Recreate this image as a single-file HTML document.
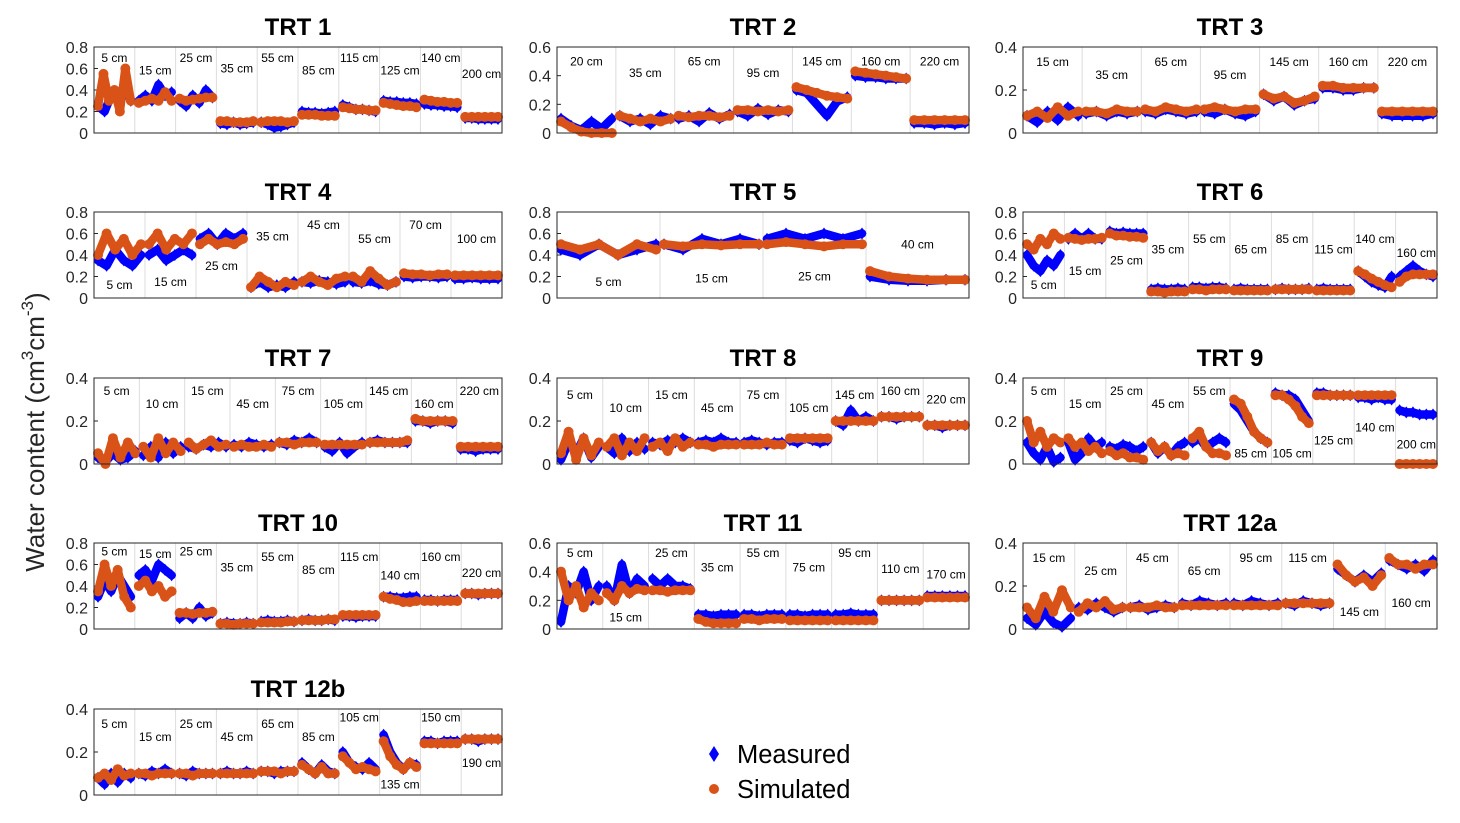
<!DOCTYPE html>
<html><head><meta charset="utf-8"><style>
body{margin:0;background:#fff;width:1460px;height:818px;overflow:hidden;font-family:"Liberation Sans",Arial,sans-serif}
svg text{font-family:"Liberation Sans",Arial,sans-serif}
</style></head><body>
<svg id="chart" width="1460" height="818" xmlns="http://www.w3.org/2000/svg">
<text transform="translate(44,432) rotate(-90)" text-anchor="middle" font-size="26" fill="#262626">Water content (cm<tspan font-size="17" dy="-11">3</tspan><tspan dy="11">cm</tspan><tspan font-size="17" dy="-11">-3</tspan><tspan dy="11">)</tspan></text>
<g>
<polygon points="714,746 719,754 714,762 709,754" fill="#0000ff"/>
<text x="737" y="763" font-size="25.5" fill="#000">Measured</text>
<circle cx="714" cy="789" r="5" fill="#d95319"/>
<text x="737" y="798" font-size="25.5" fill="#000">Simulated</text>
</g>
</svg>
<script>
// Panel titles and y-axis maxima
const titles = ["TRT 1","TRT 2","TRT 3","TRT 4","TRT 5","TRT 6","TRT 7","TRT 8","TRT 9","TRT 10","TRT 11","TRT 12a","TRT 12b"];
const yMaxes = [0.8,0.6,0.4,0.8,0.8,0.8,0.4,0.4,0.4,0.8,0.6,0.4,0.4];
// Segment data per panel: [depth label, label y value, measured values, simulated values]
const trt1 = [["5 cm",0.7,[0.25,0.2,0.35,0.3,0.45,0.3],[0.25,0.55,0.3,0.4,0.2,0.6,0.3]],["15 cm",0.58,[0.3,0.35,0.3,0.45,0.35,0.38],[0.28,0.3,0.32,0.3,0.38,0.3]],["25 cm",0.7,[0.3,0.25,0.35,0.28,0.4,0.33],[0.32,0.3,0.31,0.32,0.33,0.33]],["35 cm",0.6,[0.09,0.08,0.1,0.08,0.09,0.1],[0.11,0.11,0.1,0.1,0.1,0.11]],["55 cm",0.7,[0.1,0.08,0.05,0.06,0.08,0.1],[0.1,0.11,0.11,0.11,0.1,0.11]],["85 cm",0.58,[0.2,0.19,0.19,0.18,0.19,0.2],[0.17,0.17,0.17,0.16,0.16,0.16]],["115 cm",0.7,[0.26,0.24,0.22,0.22,0.21,0.2],[0.24,0.23,0.22,0.22,0.21,0.21]],["125 cm",0.58,[0.3,0.29,0.29,0.28,0.28,0.27],[0.28,0.27,0.26,0.25,0.25,0.24]],["140 cm",0.7,[0.27,0.26,0.26,0.25,0.25,0.24],[0.31,0.3,0.29,0.29,0.28,0.28]],["200 cm",0.55,[0.14,0.14,0.13,0.13,0.13,0.13],[0.15,0.15,0.15,0.15,0.15,0.15]]];
const trt2 = [["20 cm",0.5,[0.1,0.05,0.02,0.08,0.03,0.1],[0.08,0.04,0.01,0,0,0]],["35 cm",0.42,[0.12,0.08,0.1,0.06,0.12,0.1],[0.12,0.1,0.08,0.1,0.08,0.1]],["65 cm",0.5,[0.1,0.12,0.08,0.14,0.1,0.13],[0.12,0.11,0.12,0.12,0.11,0.12]],["95 cm",0.42,[0.15,0.12,0.17,0.13,0.16,0.15],[0.16,0.16,0.15,0.16,0.15,0.16]],["145 cm",0.5,[0.3,0.28,0.2,0.12,0.22,0.25],[0.32,0.3,0.28,0.26,0.25,0.24]],["160 cm",0.5,[0.4,0.39,0.39,0.38,0.38,0.38],[0.43,0.42,0.41,0.4,0.39,0.38]],["220 cm",0.5,[0.07,0.07,0.06,0.07,0.06,0.07],[0.09,0.09,0.09,0.09,0.09,0.09]]];
const trt3 = [["15 cm",0.33,[0.08,0.05,0.1,0.06,0.12,0.08],[0.08,0.1,0.07,0.12,0.08,0.1]],["35 cm",0.27,[0.09,0.1,0.08,0.1,0.09,0.1],[0.1,0.1,0.09,0.11,0.1,0.1]],["65 cm",0.33,[0.1,0.09,0.11,0.1,0.09,0.1],[0.11,0.1,0.12,0.11,0.1,0.11]],["95 cm",0.27,[0.1,0.09,0.11,0.09,0.08,0.1],[0.11,0.12,0.11,0.1,0.11,0.11]],["145 cm",0.33,[0.18,0.15,0.17,0.13,0.15,0.16],[0.18,0.16,0.17,0.14,0.15,0.17]],["160 cm",0.33,[0.21,0.21,0.2,0.2,0.21,0.21],[0.22,0.22,0.21,0.21,0.21,0.21]],["220 cm",0.33,[0.09,0.08,0.08,0.08,0.08,0.09],[0.1,0.1,0.1,0.1,0.1,0.1]]];
const trt4 = [["5 cm",0.12,[0.35,0.3,0.45,0.35,0.3,0.4],[0.4,0.6,0.45,0.55,0.4,0.5]],["15 cm",0.15,[0.4,0.45,0.35,0.4,0.45,0.4],[0.5,0.6,0.45,0.55,0.5,0.6]],["25 cm",0.3,[0.55,0.6,0.5,0.6,0.55,0.6],[0.5,0.55,0.5,0.52,0.5,0.55]],["35 cm",0.57,[0.1,0.15,0.1,0.12,0.1,0.15],[0.1,0.2,0.15,0.1,0.15,0.12]],["45 cm",0.68,[0.15,0.14,0.16,0.15,0.13,0.15],[0.15,0.2,0.15,0.12,0.18,0.2]],["55 cm",0.55,[0.15,0.14,0.16,0.13,0.12,0.15],[0.2,0.15,0.25,0.18,0.12,0.15]],["70 cm",0.68,[0.2,0.19,0.2,0.2,0.19,0.2],[0.23,0.22,0.22,0.21,0.22,0.22]],["100 cm",0.55,[0.18,0.18,0.19,0.18,0.18,0.18],[0.21,0.21,0.21,0.21,0.21,0.21]]];
const trt5 = [["5 cm",0.15,[0.45,0.4,0.5,0.4,0.45,0.5],[0.5,0.45,0.5,0.4,0.5,0.45]],["15 cm",0.18,[0.5,0.45,0.55,0.5,0.55,0.5],[0.5,0.48,0.5,0.49,0.5,0.5]],["25 cm",0.2,[0.55,0.6,0.55,0.6,0.55,0.6],[0.5,0.52,0.5,0.48,0.5,0.5]],["40 cm",0.5,[0.2,0.17,0.16,0.16,0.17,0.17],[0.25,0.2,0.18,0.17,0.17,0.17]]];
const trt6 = [["5 cm",0.12,[0.4,0.3,0.25,0.35,0.3,0.4],[0.5,0.45,0.55,0.5,0.6,0.55]],["15 cm",0.25,[0.55,0.6,0.55,0.6,0.55,0.55],[0.56,0.55,0.54,0.55,0.55,0.56]],["25 cm",0.35,[0.62,0.6,0.61,0.6,0.6,0.6],[0.6,0.58,0.58,0.57,0.57,0.56]],["35 cm",0.45,[0.08,0.09,0.08,0.08,0.09,0.08],[0.06,0.06,0.05,0.06,0.06,0.06]],["55 cm",0.55,[0.1,0.1,0.09,0.1,0.1,0.09],[0.08,0.08,0.07,0.08,0.08,0.08]],["65 cm",0.45,[0.08,0.09,0.08,0.08,0.08,0.08],[0.07,0.07,0.07,0.07,0.07,0.07]],["85 cm",0.55,[0.08,0.09,0.08,0.08,0.08,0.09],[0.08,0.08,0.08,0.08,0.08,0.08]],["115 cm",0.45,[0.08,0.09,0.08,0.08,0.08,0.08],[0.07,0.07,0.07,0.07,0.07,0.07]],["140 cm",0.55,[0.25,0.2,0.15,0.12,0.1,0.2],[0.25,0.22,0.18,0.15,0.12,0.1]],["160 cm",0.42,[0.2,0.25,0.3,0.25,0.22,0.2],[0.15,0.2,0.22,0.22,0.22,0.22]]];
const trt7 = [["5 cm",0.34,[0.03,0.01,0.05,0.02,0.03,0.06],[0.05,0,0.12,0.03,0.1,0.05]],["10 cm",0.28,[0.04,0.08,0.03,0.1,0.05,0.08],[0.08,0.03,0.12,0.05,0.1,0.06]],["15 cm",0.34,[0.08,0.07,0.09,0.08,0.1,0.08],[0.1,0.07,0.09,0.11,0.08,0.09]],["45 cm",0.28,[0.09,0.08,0.1,0.09,0.08,0.09],[0.08,0.09,0.08,0.08,0.09,0.08]],["75 cm",0.34,[0.1,0.09,0.11,0.1,0.12,0.1],[0.1,0.1,0.09,0.1,0.1,0.1]],["105 cm",0.28,[0.08,0.06,0.1,0.05,0.08,0.1],[0.09,0.09,0.09,0.09,0.09,0.09]],["145 cm",0.34,[0.1,0.11,0.1,0.1,0.1,0.1],[0.1,0.1,0.1,0.1,0.1,0.11]],["160 cm",0.28,[0.2,0.2,0.19,0.2,0.2,0.19],[0.21,0.2,0.2,0.2,0.2,0.2]],["220 cm",0.34,[0.07,0.07,0.06,0.07,0.07,0.07],[0.08,0.08,0.08,0.08,0.08,0.08]]];
const trt8 = [["5 cm",0.32,[0.02,0.1,0.05,0.12,0.03,0.08],[0.05,0.15,0.02,0.12,0.04,0.1]],["10 cm",0.26,[0.08,0.05,0.12,0.06,0.1,0.07],[0.08,0.12,0.04,0.1,0.06,0.12]],["15 cm",0.32,[0.1,0.09,0.11,0.1,0.12,0.1],[0.08,0.1,0.06,0.12,0.08,0.1]],["45 cm",0.26,[0.1,0.11,0.1,0.12,0.1,0.1],[0.09,0.09,0.08,0.09,0.09,0.09]],["75 cm",0.32,[0.1,0.11,0.1,0.09,0.1,0.1],[0.09,0.09,0.09,0.1,0.09,0.09]],["105 cm",0.26,[0.11,0.1,0.12,0.11,0.1,0.11],[0.12,0.12,0.12,0.12,0.12,0.12]],["145 cm",0.32,[0.2,0.18,0.25,0.2,0.22,0.2],[0.2,0.2,0.2,0.2,0.2,0.2]],["160 cm",0.34,[0.22,0.22,0.21,0.22,0.22,0.22],[0.22,0.22,0.22,0.22,0.22,0.22]],["220 cm",0.3,[0.18,0.18,0.17,0.18,0.18,0.18],[0.18,0.18,0.18,0.18,0.18,0.18]]];
const trt9 = [["5 cm",0.34,[0.1,0.05,0.02,0.08,0.01,0.03],[0.2,0.1,0.15,0.08,0.12,0.1]],["15 cm",0.28,[0.1,0.02,0.05,0.12,0.08,0.1],[0.12,0.08,0.1,0.06,0.08,0.05]],["25 cm",0.34,[0.08,0.07,0.09,0.08,0.06,0.08],[0.06,0.04,0.05,0.03,0.03,0.02]],["45 cm",0.28,[0.1,0.05,0.08,0.04,0.08,0.1],[0.1,0.06,0.08,0.04,0.05,0.04]],["55 cm",0.34,[0.1,0.12,0.08,0.1,0.12,0.1],[0.12,0.15,0.08,0.05,0.05,0.04]],["85 cm",0.05,[0.28,0.25,0.2,0.15,0.12,0.1],[0.3,0.28,0.22,0.15,0.12,0.1]],["105 cm",0.05,[0.33,0.32,0.32,0.3,0.25,0.2],[0.32,0.32,0.3,0.27,0.22,0.19]],["125 cm",0.11,[0.33,0.33,0.32,0.32,0.32,0.32],[0.32,0.32,0.32,0.32,0.32,0.32]],["140 cm",0.17,[0.31,0.31,0.3,0.31,0.3,0.3],[0.32,0.32,0.32,0.32,0.32,0.32]],["200 cm",0.09,[0.25,0.24,0.24,0.23,0.23,0.23],[0,0,0,0,0,0]]];
const trt10 = [["5 cm",0.72,[0.3,0.45,0.35,0.5,0.4,0.3],[0.35,0.6,0.4,0.55,0.3,0.2]],["15 cm",0.7,[0.5,0.55,0.45,0.6,0.55,0.5],[0.4,0.45,0.35,0.4,0.3,0.35]],["25 cm",0.72,[0.1,0.15,0.1,0.2,0.12,0.15],[0.15,0.15,0.14,0.15,0.15,0.16]],["35 cm",0.57,[0.05,0.06,0.05,0.05,0.06,0.05],[0.05,0.05,0.04,0.05,0.05,0.05]],["55 cm",0.67,[0.07,0.08,0.07,0.07,0.08,0.07],[0.06,0.06,0.06,0.06,0.07,0.07]],["85 cm",0.55,[0.08,0.09,0.08,0.08,0.09,0.08],[0.08,0.08,0.08,0.08,0.09,0.09]],["115 cm",0.67,[0.12,0.12,0.11,0.12,0.12,0.12],[0.13,0.13,0.13,0.13,0.13,0.13]],["140 cm",0.5,[0.3,0.3,0.29,0.29,0.3,0.3],[0.3,0.28,0.27,0.25,0.25,0.26]],["160 cm",0.67,[0.27,0.27,0.26,0.27,0.27,0.27],[0.26,0.26,0.26,0.26,0.26,0.26]],["220 cm",0.52,[0.33,0.33,0.32,0.33,0.33,0.33],[0.33,0.33,0.33,0.33,0.33,0.33]]];
const trt11 = [["5 cm",0.53,[0.05,0.3,0.25,0.4,0.2,0.3],[0.4,0.2,0.3,0.15,0.25,0.2]],["15 cm",0.08,[0.3,0.2,0.45,0.25,0.35,0.3],[0.25,0.2,0.3,0.25,0.28,0.27]],["25 cm",0.53,[0.35,0.3,0.35,0.3,0.3,0.28],[0.27,0.27,0.26,0.27,0.27,0.27]],["35 cm",0.43,[0.1,0.1,0.09,0.1,0.1,0.1],[0.07,0.05,0.04,0.04,0.04,0.04]],["55 cm",0.53,[0.1,0.1,0.09,0.1,0.1,0.1],[0.07,0.07,0.06,0.07,0.07,0.07]],["75 cm",0.43,[0.1,0.1,0.09,0.1,0.1,0.1],[0.06,0.06,0.06,0.06,0.06,0.06]],["95 cm",0.53,[0.1,0.1,0.11,0.1,0.1,0.1],[0.06,0.06,0.06,0.06,0.06,0.06]],["110 cm",0.42,[0.2,0.2,0.2,0.2,0.2,0.2],[0.2,0.2,0.2,0.2,0.2,0.2]],["170 cm",0.38,[0.23,0.23,0.23,0.23,0.23,0.23],[0.22,0.22,0.22,0.22,0.22,0.22]]];
const trt12a = [["15 cm",0.33,[0.05,0.02,0.08,0.03,0.01,0.05],[0.1,0.05,0.15,0.08,0.18,0.1]],["25 cm",0.27,[0.1,0.09,0.12,0.1,0.08,0.1],[0.08,0.12,0.1,0.13,0.09,0.1]],["45 cm",0.33,[0.1,0.11,0.09,0.1,0.11,0.1],[0.1,0.1,0.1,0.11,0.1,0.1]],["65 cm",0.27,[0.12,0.11,0.13,0.12,0.11,0.12],[0.11,0.11,0.11,0.11,0.11,0.11]],["95 cm",0.33,[0.12,0.11,0.13,0.12,0.11,0.12],[0.11,0.11,0.11,0.11,0.11,0.11]],["115 cm",0.33,[0.12,0.11,0.13,0.12,0.11,0.12],[0.12,0.12,0.12,0.12,0.12,0.12]],["145 cm",0.08,[0.28,0.25,0.22,0.25,0.22,0.26],[0.3,0.25,0.22,0.24,0.2,0.25]],["160 cm",0.12,[0.32,0.3,0.28,0.3,0.27,0.32],[0.33,0.3,0.3,0.28,0.3,0.3]]];
const trt12b = [["5 cm",0.33,[0.08,0.05,0.1,0.06,0.1,0.08],[0.08,0.1,0.07,0.12,0.09,0.1]],["15 cm",0.27,[0.1,0.09,0.11,0.1,0.12,0.1],[0.1,0.1,0.09,0.1,0.1,0.1]],["25 cm",0.33,[0.1,0.09,0.11,0.1,0.1,0.1],[0.1,0.1,0.09,0.1,0.1,0.1]],["45 cm",0.27,[0.1,0.11,0.1,0.1,0.11,0.1],[0.1,0.1,0.1,0.1,0.1,0.1]],["65 cm",0.33,[0.11,0.11,0.1,0.11,0.11,0.11],[0.11,0.11,0.11,0.1,0.11,0.11]],["85 cm",0.27,[0.15,0.12,0.1,0.14,0.11,0.1],[0.14,0.12,0.1,0.13,0.1,0.1]],["105 cm",0.36,[0.2,0.15,0.13,0.12,0.15,0.12],[0.18,0.15,0.12,0.13,0.12,0.11]],["135 cm",0.05,[0.28,0.2,0.15,0.12,0.15,0.14],[0.25,0.18,0.14,0.12,0.15,0.13]],["150 cm",0.36,[0.25,0.25,0.24,0.25,0.25,0.25],[0.24,0.24,0.24,0.24,0.24,0.24]],["190 cm",0.15,[0.26,0.26,0.25,0.26,0.26,0.26],[0.26,0.26,0.26,0.26,0.26,0.26]]];
const panelsData = [trt1,trt2,trt3,trt4,trt5,trt6,trt7,trt8,trt9,trt10,trt11,trt12a,trt12b];

const NS = "http://www.w3.org/2000/svg";
const svg = document.getElementById("chart");
const colX = [[94,502],[557,969],[1023,1437]];
const rowY = [47,212,378,543,709];
const H = 86;
function mk(tag, attrs, parent){const e=document.createElementNS(NS,tag);for(const k in attrs)e.setAttribute(k,attrs[k]);parent.appendChild(e);return e;}

panelsData.forEach((segs, p) => {
  const [x0,x1] = colX[p%3];
  const y0 = rowY[Math.floor(p/3)];
  const ymax = yMaxes[p];
  const yS = v => y0 + H - (v/ymax)*H;
  const g = mk("g",{},svg);
  
  
  const t = mk("text",{x:(x0+x1)/2,y:y0-12,"text-anchor":"middle","font-size":"24","font-weight":"bold",fill:"#000"},g);
  t.textContent = titles[p];
  
  
  const n = segs.length, sw = (x1-x0)/n;
  for(let i=1;i<n;i++){
    const l = mk("line",{x1:x0+i*sw,x2:x0+i*sw,y1:y0,y2:y0+H,stroke:"#dcdcdc","stroke-width":"1"},g);
    
    
  }
  const step = 0.2;
  for(let v=0; v<=ymax+1e-9; v+=step){
    const yy = yS(v);
    const tk = mk("line",{x1:x0,x2:x0+4,y1:yy,y2:yy,stroke:"#262626","stroke-width":"1"},g);
    
    
    const tl = mk("text",{x:x0-6,y:yy+6,"text-anchor":"end","font-size":"16",fill:"#262626"},g);
    tl.textContent = (Math.round(v*10)/10===0)?"0":(Math.round(v*10)/10).toString();
    
    
  }
  segs.forEach((s,i) => {
    const sx = x0 + i*sw;
    const xsFor = arr => arr.map((_,k)=> sx+4 + k*(sw-8)/(arr.length-1));
    [[s[2],"#0000ff","measured"],[s[3],"#d95319","simulated"]].forEach(([vals,col,kind])=>{
      const xs = xsFor(vals);
      const pl = mk("polyline",{points:vals.map((v,k)=>xs[k]+","+yS(v)).join(" "),fill:"none",stroke:col,"stroke-width":"8.5","stroke-linejoin":"round","stroke-linecap":"round"},g);
      
      
      vals.forEach((v,k)=>{
        const cy = yS(v), cx = xs[k];
        let m;
        if(kind==="measured") m = mk("polygon",{points:`${cx},${cy-6} ${cx+4.5},${cy} ${cx},${cy+6} ${cx-4.5},${cy}`,fill:col},g);
        else m = mk("circle",{cx:cx,cy:cy,r:"5",fill:col},g);
        
        
      });
    });
  });
  segs.forEach((s,i) => {
    const lb = mk("text",{x:x0+(i+0.5)*sw,y:yS(s[1])+4,"text-anchor":"middle","font-size":"12",fill:"#000"},g);
    lb.textContent = s[0];
    
    
  });
  const box = mk("rect",{x:x0,y:y0,width:x1-x0,height:H,fill:"none",stroke:"#262626","stroke-width":"1"},g);
  
  
});
</script>
</body></html>
